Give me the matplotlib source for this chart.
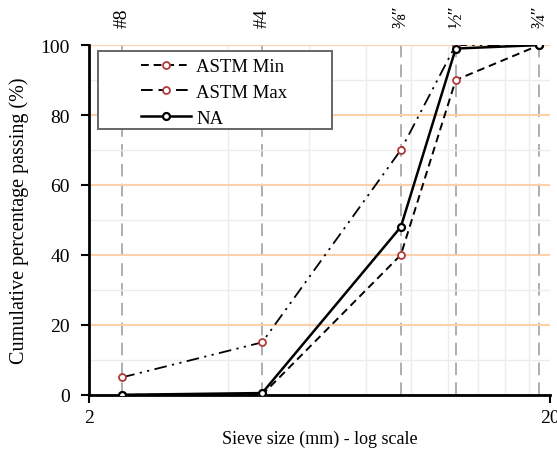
import matplotlib
matplotlib.use("Agg")
import matplotlib.pyplot as plt
from matplotlib.lines import Line2D
from matplotlib.patches import Rectangle
from matplotlib.ticker import FixedLocator, NullFormatter

plt.rcParams["font.family"] = ["Liberation Serif", "DejaVu Serif"]

# sieve openings (mm) and their names
sieve_mm = [2.36, 4.75, 9.5, 12.5, 19.0]
sieve_names = ["#8", "#4", "⅜″", "½″", "¾″"]

astm_min = [0, 0, 40, 90, 100]
astm_max = [5, 15, 70, 100, 100]
na_passing = [0, 0.5, 48, 99, 100]

x_major = [2, 20]
x_minor = [4, 6, 8, 10, 12, 14, 16, 18]
y_major = [0, 20, 40, 60, 80, 100]
y_minor = [10, 30, 50, 70, 90]

red = "#b03a3a"
min_dash = (0, (4, 2.5))
max_dash = (0, (7, 3, 1.2, 3, 1.2, 3))

fig = plt.figure(figsize=(5.57, 4.56), dpi=100)
ax = fig.add_axes([0.16, 0.132, 0.827, 0.767])

ax.set_xscale("log")
ax.set_xlim(2, 20)
ax.set_ylim(0, 100)

# grid
ax.xaxis.set_major_locator(FixedLocator(x_major))
ax.xaxis.set_minor_locator(FixedLocator(x_minor))
ax.xaxis.set_minor_formatter(NullFormatter())
ax.set_xticklabels([str(v) for v in x_major])
ax.yaxis.set_major_locator(FixedLocator(y_major))
ax.yaxis.set_minor_locator(FixedLocator(y_minor))
ax.grid(which="minor", color="#ececec", lw=1.0)
ax.grid(which="major", axis="y", color="#fbd0aa", lw=1.5)
for s in sieve_mm:
    ax.axvline(s, color="#a8a8a8", lw=1.3, ls=(0, (7, 4)), zorder=1)

ax.plot(sieve_mm, astm_min, color="black", lw=1.4, ls=min_dash,
        marker="o", ms=5, mfc="white", mec=red, mew=1.3, zorder=3)
ax.plot(sieve_mm, astm_max, color="black", lw=1.3, ls=max_dash,
        marker="o", ms=5, mfc="white", mec=red, mew=1.3, zorder=3)
ax.plot(sieve_mm, na_passing, color="black", lw=1.8, ls="-",
        marker="o", ms=5, mfc="white", mec="black", mew=1.6, zorder=4)

for side in ["top", "right"]:
    ax.spines[side].set_visible(False)
for side in ["left", "bottom"]:
    ax.spines[side].set_linewidth(2.0)
ax.tick_params(which="major", direction="out", length=6, width=1.5, labelsize=14, pad=4)
ax.tick_params(axis="y", pad=8)
ax.tick_params(which="minor", length=0)
ax.set_xlabel("Sieve size (mm) - log scale", fontsize=13, labelpad=3)
ax.set_ylabel("Cumulative percentage passing (%)", fontsize=14.5, labelpad=8)

# sieve names along the top
top = ax.twiny()
top.set_xscale("log")
top.set_xlim(ax.get_xlim())
top.xaxis.set_major_locator(FixedLocator(sieve_mm))
top.xaxis.set_minor_locator(FixedLocator([]))
top.set_xticklabels(sieve_names, rotation=90, fontsize=14)
top.tick_params(length=0, pad=13)
for side in top.spines:
    top.spines[side].set_visible(False)

# legend: entries without frame, box drawn separately (it is wider than the entries)
handles = [
    Line2D([], [], color="black", lw=1.4, ls=min_dash, marker="o", ms=5,
           mfc="white", mec=red, mew=1.3),
    Line2D([], [], color="black", lw=1.4, ls=(0, (6, 3)), marker="o", ms=5,
           mfc="white", mec=red, mew=1.3),
    Line2D([], [], color="black", lw=1.8, marker="o", ms=5,
           mfc="white", mec="black", mew=1.6),
]
leg = ax.legend(handles, ["ASTM Min", "ASTM Max", "NA"], loc="upper left",
                bbox_to_anchor=(0.112, 0.962), fontsize=13.5, handlelength=2.7,
                handletextpad=0.25, borderpad=0, labelspacing=0.45, frameon=False,
                borderaxespad=0)
leg.set_zorder(6)
ax.add_patch(Rectangle((0.0195, 0.76), 0.508, 0.223, transform=ax.transAxes,
                       facecolor="white", edgecolor="#666666", lw=1.4, zorder=5))

fig.savefig("out.png", dpi=100)
